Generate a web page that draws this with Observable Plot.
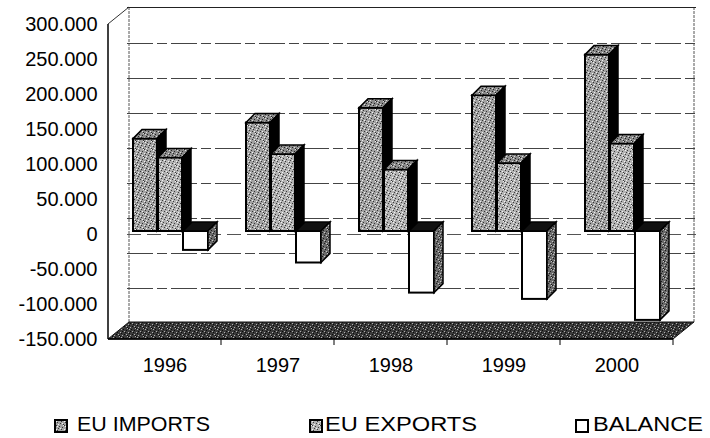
<!DOCTYPE html>
<html><head><meta charset="utf-8">
<script src="https://cdn.jsdelivr.net/npm/d3@7"></script>
<script src="https://cdn.jsdelivr.net/npm/@observablehq/plot@0.6"></script>
<style>
body{margin:0;background:#fff;font-family:"Liberation Sans",Arial,sans-serif;}
#chart{width:710px;}
#chart svg{display:block;}
</style></head><body><div id="chart"></div>
<script>
const years = ["1996", "1997", "1998", "1999", "2000"];
const euImports = [132, 155, 176, 194, 252];
const euExports = [105, 110, 88, 97, 125];
const balance = [-27, -45, -88, -97, -127];
const yTicks = [-150, -100, -50, 0, 50, 100, 150, 200, 250, 300];
const seriesNames = ["EU IMPORTS", "EU EXPORTS", "BALANCE"];

const rows = years.map((year, i) => ({year, imports: euImports[i], exports: euExports[i], balance: balance[i]}));
const fmt = d => d === 0 ? "0" : (d < 0 ? "-" : "") + Math.abs(d) + ".000";

const FONT = '"Liberation Sans", Arial, sans-serif';

const plot = Plot.plot({
  width: 710, height: 385,
  marginLeft: 106, marginRight: 35, marginTop: 24, marginBottom: 46,
  x: {type: "band", domain: years, padding: 0, label: null},
  y: {domain: [-150, 300], label: null},
  style: {fontFamily: FONT, fontSize: "20px", color: "#000", background: "#fff", overflow: "visible"},
  marks: [
    Plot.ruleY(yTicks.filter(t => t > -150 && t < 300), {dx: 21, dy: -16, stroke: "#444", strokeWidth: 1, strokeDasharray: "26,4,10,4"}),
    Plot.ruleY([300], {dx: 21, dy: -17, stroke: "#222", strokeWidth: 1.2}),
    Plot.ruleY([0], {dx: 21, dy: 0, stroke: "#555", strokeWidth: 1, strokeDasharray: "14,6"}),
    Plot.barY(rows, {x: "year", y: "imports", fill: "url(#pImp)", stroke: "#000", strokeWidth: 2, insetLeft: 25, insetRight: 64, dy: -3, ariaLabel: "imports"}),
    Plot.barY(rows, {x: "year", y: "exports", fill: "url(#pExp)", stroke: "#000", strokeWidth: 2, insetLeft: 50, insetRight: 39, dy: -3, ariaLabel: "exports"}),
    Plot.barY(rows, {x: "year", y: "balance", fill: "#fff", stroke: "#000", strokeWidth: 2, insetLeft: 75, insetRight: 13, dy: -3, ariaLabel: "balance"}),
    Plot.axisY({ticks: yTicks, tickFormat: fmt, tickSize: 0, tickPadding: 9, fontSize: 20, label: null}),
    Plot.axisX({tickSize: 0, tickPadding: 18, fontSize: 20, label: null})
  ]
});

const svg = d3.select(plot);

// patterns (texture only)
const defs = svg.insert("defs", ":first-child");
function pattern(id, bg, dark, light, size) {
  const p = defs.append("pattern").attr("id", id).attr("patternUnits", "userSpaceOnUse")
    .attr("width", size).attr("height", size);
  p.append("rect").attr("width", size).attr("height", size).attr("fill", bg);
  const darkPts = [[0,0],[3,1],[5,4],[1,5],[6,2],[2,3],[4,6],[7,7]];
  const lightPts = [[1,1],[4,3],[6,6],[2,7],[7,0],[0,4]];
  darkPts.forEach(([a,b]) => p.append("rect").attr("x", a % size).attr("y", b % size).attr("width", 1).attr("height", 1).attr("fill", dark));
  lightPts.forEach(([a,b]) => p.append("rect").attr("x", a % size).attr("y", b % size).attr("width", 1).attr("height", 1).attr("fill", light));
}
pattern("pImp", "#a2a2a2", "#333", "#f2f2f2", 8);
pattern("pExp", "#b2b2b2", "#3a3a3a", "#f5f5f5", 8);
pattern("pTop", "#8a8a8a", "#222", "#ddd", 8);
pattern("pSide", "#6a6a6a", "#1a1a1a", "#c8c8c8", 8);
pattern("pFloor", "#3a3a3a", "#0a0a0a", "#b0b0b0", 8);

const X = plot.scale("x"), Y = plot.scale("y");
const bw = X.bandwidth;
const x0 = X.apply(years[0]), x1 = X.apply(years[years.length - 1]) + bw;
const yTop = Y.apply(300), yBot = Y.apply(-150);
const DX = 21, DY = -17;

// 3D frame decoration, behind the marks
const deco = svg.insert("g", "defs + *").attr("aria-label", "frame");
deco.append("line").attr("x1", x0 + DX).attr("x2", x0 + DX).attr("y1", yTop + DY).attr("y2", yBot + DY).attr("stroke", "#555").attr("stroke-dasharray", "3,1");
deco.append("line").attr("x1", x1 + DX).attr("x2", x1 + DX).attr("y1", yTop + DY).attr("y2", yBot + DY).attr("stroke", "#555").attr("stroke-dasharray", "3,1");
deco.append("line").attr("x1", x0).attr("x2", x0 + DX).attr("y1", yTop).attr("y2", yTop + DY).attr("stroke", "#333");
deco.append("polygon").attr("points", [[x0, yBot], [x1, yBot], [x1 + DX, yBot + DY], [x0 + DX, yBot + DY]].join(" "))
  .attr("fill", "url(#pFloor)").attr("stroke", "#111").attr("stroke-width", 1);
deco.append("line").attr("x1", x0).attr("x2", x0).attr("y1", yTop).attr("y2", yBot).attr("stroke", "#000").attr("stroke-width", 1.5);
deco.append("line").attr("x1", x0).attr("x2", x1).attr("y1", yBot).attr("y2", yBot).attr("stroke", "#000").attr("stroke-width", 1.5);
years.forEach(yr => {
  const xx = X.apply(yr) + bw;
  deco.append("line").attr("x1", xx).attr("x2", xx).attr("y1", yBot).attr("y2", yBot + 6).attr("stroke", "#000");
});

// 3D faces on bars
const D = 9;
const faceStyle = [
  {top: "url(#pTop)", side: "#000"},
  {top: "url(#pTop)", side: "#000"},
  {top: "#111", side: "url(#pSide)"}
];
const barGroups = Array.from(plot.querySelectorAll("g")).filter(g =>
  g.children.length === years.length && Array.from(g.children).every(c => c.tagName.toLowerCase() === "rect"));
barGroups.forEach((gnode, k) => {
  const st = faceStyle[k] || faceStyle[0];
  const g = d3.select(gnode);
  Array.from(gnode.children).forEach(rect => {
    const x = +rect.getAttribute("x"), y = +rect.getAttribute("y");
    const w = +rect.getAttribute("width"), h = +rect.getAttribute("height");
    g.append("polygon").attr("points", [[x, y], [x + w, y], [x + w + D, y - D], [x + D, y - D]].join(" "))
      .attr("fill", st.top).attr("stroke", "#000").attr("stroke-width", 1.5);
    g.append("polygon").attr("points", [[x + w, y], [x + w + D, y - D], [x + w + D, y + h - D], [x + w, y + h]].join(" "))
      .attr("fill", st.side).attr("stroke", "#000").attr("stroke-width", 1.5);
  });
});

document.getElementById("chart").appendChild(plot);

// legend below the chart
const legendFills = ["url(#pImp)", "url(#pExp)", "#fff"];
const legendSquareX = [55, 310, 576];
const legendTextX = [77, 325, 593];
const legendTextW = [133, 152, 110];
const leg = d3.select("#chart").append("svg").attr("width", 710).attr("height", 53)
  .style("font-family", FONT);
seriesNames.forEach((name, i) => {
  leg.append("rect").attr("x", legendSquareX[i]).attr("y", 35).attr("width", 12).attr("height", 12)
    .attr("fill", legendFills[i]).attr("stroke", "#000").attr("stroke-width", 2);
  leg.append("text").attr("x", legendTextX[i]).attr("y", 46).attr("font-size", 20)
    .attr("textLength", legendTextW[i]).attr("lengthAdjust", "spacingAndGlyphs").text(name);
});
</script>
</body></html>
